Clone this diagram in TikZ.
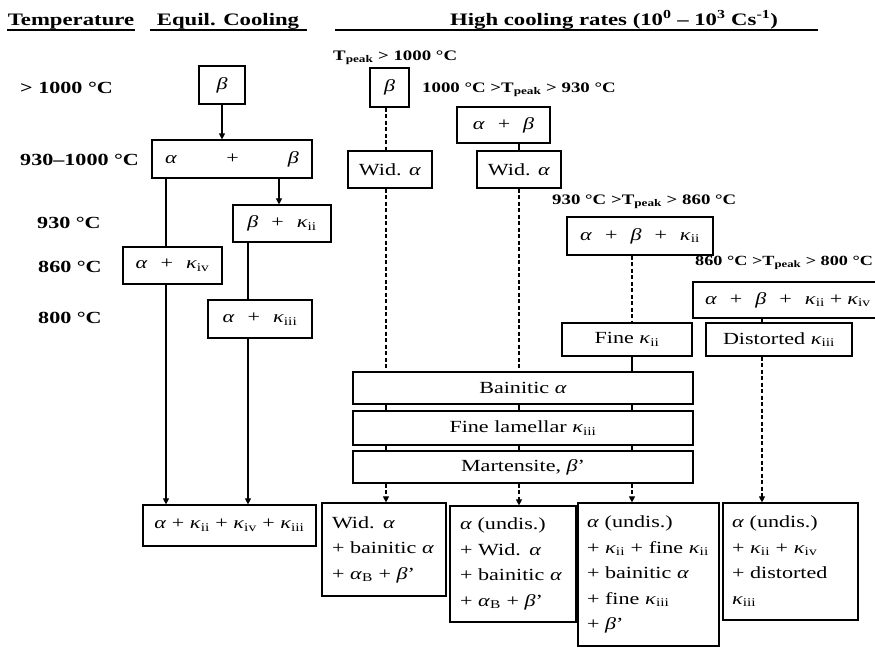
\documentclass[tikz,border=0pt]{standalone}
\usepackage{fontspec}
\setmainfont{Liberation Serif}[FakeStretch=1.3]
\usetikzlibrary{arrows.meta}
\newcommand\al{\textit{α}}
\newcommand\be{\textit{β}}
\newcommand\ka[1]{\textit{κ}\textsubscript{#1}}
\newcommand\Tp{T\textsubscript{peak}}
\newcommand\pl{\hspace{13pt}+\hspace{13pt}}
\tikzset{
 bx/.style={draw, line width=1.2pt, fill=white, inner sep=0pt, font=\fontsize{17}{20}\selectfont},
 hdr/.style={font=\bfseries\fontsize{17.5}{20}\selectfont, anchor=base, inner sep=0pt},
 lbl/.style={font=\bfseries\fontsize{17}{20}\selectfont, anchor=west, inner sep=0pt},
 tlbl/.style={font=\bfseries\fontsize{14.5}{17}\selectfont, anchor=west, inner sep=0pt},
 conn/.style={line width=1.1pt},
 dsh/.style={conn, dash pattern=on 4pt off 2.5pt},
 arr/.style={-{Triangle[length=6pt,width=6pt]}},
 fin/.style={bx, align=left, inner xsep=10pt, font=\fontsize{17}{25.5}\selectfont},
}
\begin{document}
\begin{tikzpicture}[x=1pt,y=-1pt]
\useasboundingbox (0,0) rectangle (875,648);
% headers
\node[hdr] (hT) at (71,25) {Temperature};
\node[hdr] (hE) at (228,25) {Equil. Cooling};
\node[hdr] (hH) at (614,25) {High cooling rates (10\textsuperscript{0} – 10\textsuperscript{3} Cs\textsuperscript{-1})};
\draw[line width=1.2pt] (7,30) -- (135,30);
\draw[line width=1.2pt] (150,30) -- (307,30);
\draw[line width=1.2pt] (335,30) -- (818,30);
% temperature labels
\node[lbl] (t1) at (20,88) {> 1000 °C};
\node[lbl] (t2) at (20,160) {930–1000 °C};
\node[lbl] (t3) at (37,223) {930 °C};
\node[lbl] (t4) at (38,267) {860 °C};
\node[lbl] (t5) at (38,318) {800 °C};
% Tpeak labels
\node[tlbl] (p1) at (333,58) {\Tp{} > 1000 °C};
\node[tlbl] (p2) at (422,90) {1000 °C >\Tp{} > 930 °C};
\node[tlbl] (p3) at (552,202) {930 °C >\Tp{} > 860 °C};
\node[tlbl, font=\bfseries\fontsize{14}{17}\selectfont] (p4) at (695,263) {860 °C >\Tp{} > 800 °C};
% column coordinates
\coordinate (xA) at (166,0);
\coordinate (xC) at (279,0);
\coordinate (xD) at (248,0);
\coordinate (x1) at (386,0);
\coordinate (x2) at (519,0);
\coordinate (x3) at (632,0);
\coordinate (x4) at (762,0);
% equilibrium boxes
\node[bx, minimum width=46pt, minimum height=38pt] (eqB) at (222,85) {\be};
\node[bx, minimum width=160pt, minimum height=38pt, text width=134pt] (eqAB) at (232,159) {\al\hfill+\hfill\be};
\node[bx, minimum width=98pt, minimum height=37pt] (eqBK) at (282,223.5) {\be\pl\ka{ii}};
\node[bx, minimum width=99pt, minimum height=37pt] (eqAK4) at (172.5,265.5) {\al\pl\ka{iv}};
\node[bx, minimum width=104pt, minimum height=38pt] (eqAK3) at (260,319) {\al\pl\ka{iii}};
\node[bx, minimum width=173pt, minimum height=41pt] (eqF) at (229.5,525.5) {\al{} + \ka{ii} + \ka{iv} + \ka{iii}};
% high cooling boxes
\node[bx, minimum width=39pt, minimum height=39pt] (hB) at (389.5,87.5) {\be};
\node[bx, minimum width=93pt, minimum height=36pt] (hAB) at (503.5,125) {\al\pl\be};
\node[bx, minimum width=84pt, minimum height=37pt] (hW1) at (390,169.5) {Wid. \al};
\node[bx, minimum width=84pt, minimum height=37pt] (hW2) at (519,169.5) {Wid. \al};
\node[bx, minimum width=146pt, minimum height=38pt] (hABK) at (640,236) {\al\pl\be\pl\ka{ii}};
\node[bx, minimum width=195pt, minimum height=36pt, text width=185pt, align=left] (hABKK) at (790.5,300) {\hspace{7pt}\al\pl\be\pl\ka{ii}\hspace{5pt}+\hspace{5pt}\ka{iv}};
\node[bx, minimum width=130pt, minimum height=33pt] (hFK) at (627,339.5) {Fine \ka{ii}};
\node[bx, minimum width=146pt, minimum height=33pt] (hDK) at (779,339.5) {Distorted \ka{iii}};
\node[bx, minimum width=340pt, minimum height=32pt] (bain) at (523,388) {Bainitic \al};
\node[bx, minimum width=340pt, minimum height=34pt] (fl) at (523,428) {Fine lamellar \ka{iii}};
\node[bx, minimum width=340pt, minimum height=32pt] (mart) at (523,467) {Martensite, \be'};
% final boxes
\node[fin, minimum width=124pt, minimum height=93pt, text width=104pt] (f1) at (384,549.5) {Wid. \al\\+ bainitic \al\\+ \al\textsubscript{B} + \be'};
\node[fin, minimum width=126pt, minimum height=116pt, text width=106pt] (f2) at (513,564) {\al{} (undis.)\\+ Wid. \al\\+ bainitic \al\\+ \al\textsubscript{B} + \be'};
\node[fin, minimum width=141pt, minimum height=143pt, text width=123pt, inner xsep=9pt] (f3) at (648.5,574.5) {\al{} (undis.)\\+ \ka{ii} + fine \ka{ii}\\+ bainitic \al\\+ fine \ka{iii}\\+ \be'};
\node[fin, minimum width=135pt, minimum height=117pt, text width=117pt, inner xsep=9pt] (f4) at (790.5,561.5) {\al{} (undis.)\\+ \ka{ii} + \ka{iv}\\+ distorted\\\ka{iii}};
% equilibrium connectors
\draw[conn, arr] (eqB.south) -- (eqB.south |- eqAB.north);
\draw[conn, arr] (eqAB.south -| xC) -- (eqBK.north -| xC);
\draw[conn] (eqAB.south -| xA) -- (eqAK4.north -| xA);
\draw[conn, arr] (eqAK4.south -| xA) -- (eqF.north -| xA);
\draw[conn] (eqBK.south -| xD) -- (eqAK3.north -| xD);
\draw[conn, arr] (eqAK3.south -| xD) -- (eqF.north -| xD);
% high cooling connectors
\draw[dsh] (hB.south -| x1) -- (hW1.north -| x1);
\draw[dsh] (hW1.south -| x1) -- (bain.north -| x1);
\draw[conn] (hAB.south -| x2) -- (hW2.north -| x2);
\draw[dsh] (hW2.south -| x2) -- (bain.north -| x2);
\draw[dsh] (hABK.south -| x3) -- (hFK.north -| x3);
\draw[conn] (hFK.south -| x3) -- (bain.north -| x3);
\draw[conn] (hABKK.south -| x4) -- (hDK.north -| x4);
\draw[dsh, arr] (hDK.south -| x4) -- (f4.north -| x4);
\foreach \c in {x1,x2,x3}{
  \draw[conn] (bain.south -| \c) -- (fl.north -| \c);
  \draw[conn] (fl.south -| \c) -- (mart.north -| \c);
}
\draw[dsh, arr] (mart.south -| x1) -- (f1.north -| x1);
\draw[dsh, arr] (mart.south -| x2) -- (f2.north -| x2);
\draw[dsh, arr] (mart.south -| x3) -- (f3.north -| x3);
\end{tikzpicture}
\end{document}
